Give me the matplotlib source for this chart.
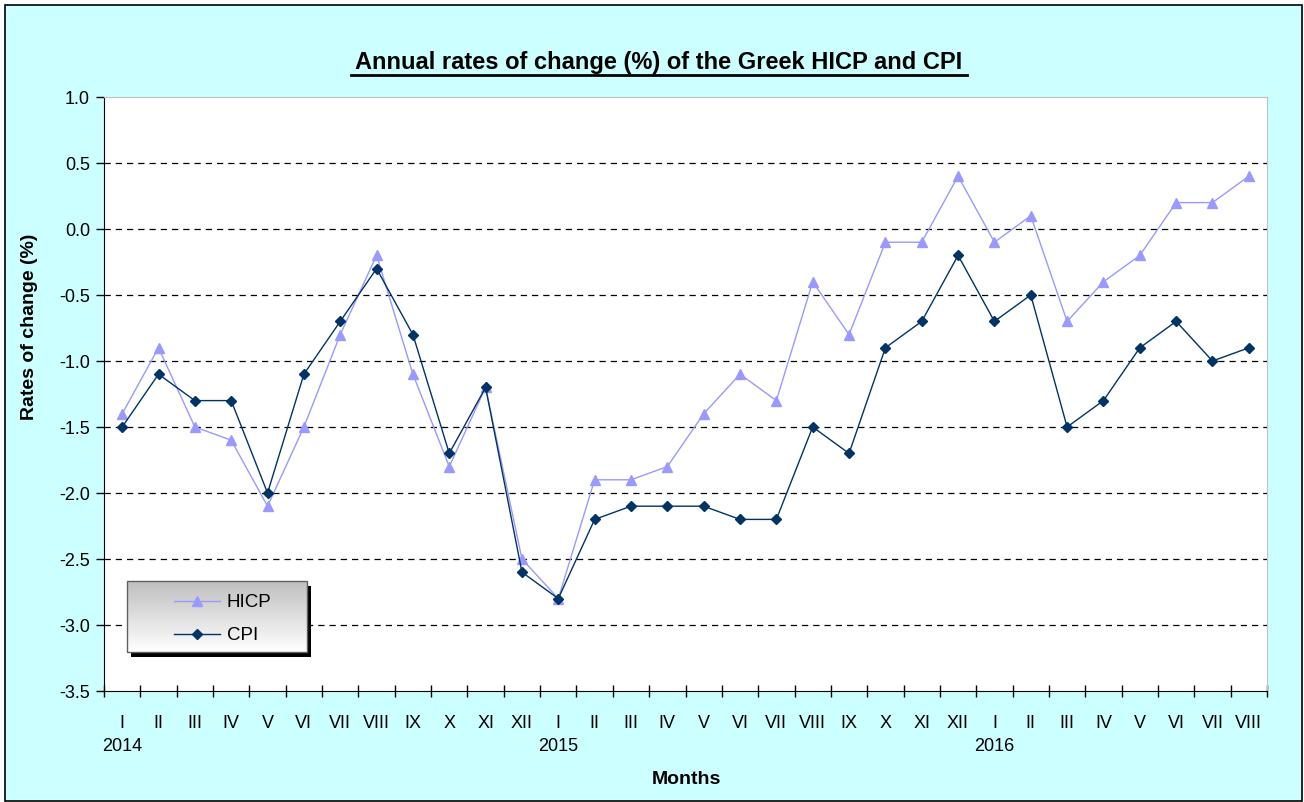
import matplotlib.pyplot as plt
import numpy as np
from matplotlib.patches import Rectangle
from matplotlib.lines import Line2D

plt.rcParams['font.family'] = ['Liberation Sans', 'DejaVu Sans']

# Month labels, 2014-I to 2016-VIII
months = ['I', 'II', 'III', 'IV', 'V', 'VI', 'VII', 'VIII', 'IX', 'X', 'XI', 'XII',
          'I', 'II', 'III', 'IV', 'V', 'VI', 'VII', 'VIII', 'IX', 'X', 'XI', 'XII',
          'I', 'II', 'III', 'IV', 'V', 'VI', 'VII', 'VIII']
years = ['2014', '2015', '2016']
year_pos = [0, 12, 24]

hicp = [-1.4, -0.9, -1.5, -1.6, -2.1, -1.5, -0.8, -0.2, -1.1, -1.8, -1.2, -2.5,
        -2.8, -1.9, -1.9, -1.8, -1.4, -1.1, -1.3, -0.4, -0.8, -0.1, -0.1, 0.4,
        -0.1, 0.1, -0.7, -0.4, -0.2, 0.2, 0.2, 0.4]
cpi = [-1.5, -1.1, -1.3, -1.3, -2.0, -1.1, -0.7, -0.3, -0.8, -1.7, -1.2, -2.6,
       -2.8, -2.2, -2.1, -2.1, -2.1, -2.2, -2.2, -1.5, -1.7, -0.9, -0.7, -0.2,
       -0.7, -0.5, -1.5, -1.3, -0.9, -0.7, -1.0, -0.9]

W, H = 1304, 802
fig = plt.figure(figsize=(W / 100, H / 100), dpi=100)
fig.patch.set_facecolor('white')
# cyan chart area with black border
fig.patches.append(Rectangle((4.5 / W, 1.5 / H), 1297 / W, 796 / H, transform=fig.transFigure,
                             facecolor='#ccffff', edgecolor='black', linewidth=1.2, zorder=-10))

ax = fig.add_axes([104 / W, 1 - 691 / H, (1267 - 104) / W, (691 - 97) / H])
ax.set_facecolor('white')

x = np.arange(len(months))
ax.plot(x, hicp, color='#9999ff', linewidth=1.0, marker='^', markersize=7,
        markerfacecolor='#9999ff', markeredgecolor='#9999ff', label='HICP', zorder=3)
ax.plot(x, cpi, color='#003366', linewidth=1.0, marker='D', markersize=5,
        markerfacecolor='#003366', markeredgecolor='#003366', label='CPI', zorder=4)

ax.set_xlim(-0.5, len(months) - 0.5)
ax.set_ylim(-3.5, 1.0)
yt = np.arange(-3.5, 1.01, 0.5)
ax.set_yticks(yt)
ax.set_yticklabels(['%.1f' % v for v in yt], fontsize=13)
for v in yt[1:-1]:
    ax.axhline(v, color='black', linestyle=(0, (5, 4)), linewidth=0.9, zorder=1)

# category ticks between months, labels centered on months
ax.set_xticks(np.arange(-0.5, len(months), 1.0))
ax.set_xticklabels([])
ax.tick_params(axis='x', direction='inout', length=8, width=1)
ax.tick_params(axis='y', direction='out', length=6, width=1, pad=4)
for i, m in enumerate(months):
    ax.annotate(m, (i, -3.5), xytext=(0, -17.5), textcoords='offset points',
                ha='center', va='top', fontsize=13, annotation_clip=False)
for yp, yr in zip(year_pos, years):
    ax.annotate(yr, (yp, -3.5), xytext=(0, -34), textcoords='offset points',
                ha='center', va='top', fontsize=13, annotation_clip=False)

for s in ['top', 'right']:
    ax.spines[s].set_color('#c0c0c0')
for s in ['left', 'bottom']:
    ax.spines[s].set_color('black')

fig.text(686 / W, 1 - 779 / H, 'Months', ha='center', va='center', fontsize=14, fontweight='bold')
fig.text(30 / W, 1 - 327 / H, 'Rates of change (%)', ha='center', va='center', rotation=90,
         fontsize=14, fontweight='bold')

# title with underline
title = fig.text(659 / W, 1 - 62 / H, 'Annual rates of change (%) of the Greek HICP and CPI',
                 ha='center', va='center', fontsize=17, fontweight='bold')
fig.canvas.draw()
bb = title.get_window_extent().transformed(fig.transFigure.inverted())
fig.lines.append(Line2D([bb.x0 - 4 / W, bb.x1 + 4 / W], [bb.y0 - 1 / H, bb.y0 - 1 / H],
                        transform=fig.transFigure, color='black', linewidth=2))

# legend box with gradient and shadow
lx0, lx1 = (127 - 104) / 1163, (307 - 104) / 1163
ly1, ly0 = (691 - 581) / 594, (691 - 652) / 594
ax.add_patch(Rectangle((lx0 + 4 / 1163, ly0 - 5 / 594), lx1 - lx0, ly1 - ly0, transform=ax.transAxes,
                       facecolor='black', edgecolor='none', zorder=5))
grad = np.linspace(0.75, 1.0, 100).reshape(-1, 1)
ax.imshow(np.dstack([grad, grad, grad]), extent=(lx0, lx1, ly0, ly1), transform=ax.transAxes,
          aspect='auto', zorder=6, origin='upper')
ax.add_patch(Rectangle((lx0, ly0), lx1 - lx0, ly1 - ly0, transform=ax.transAxes,
                       facecolor='none', edgecolor='#606060', linewidth=1, zorder=7))
ax.set_xlim(-0.5, len(months) - 0.5)
ax.set_ylim(-3.5, 1.0)
ax.legend(loc='upper left', bbox_to_anchor=((158.5 - 104) / 1163, ly1 + 2 / 594), frameon=False,
          fontsize=13.5, handlelength=2.5, borderpad=0.3, labelspacing=0.85, handletextpad=0.35)
ax.get_legend().set_zorder(8)

fig.savefig('out.png', dpi=100)
